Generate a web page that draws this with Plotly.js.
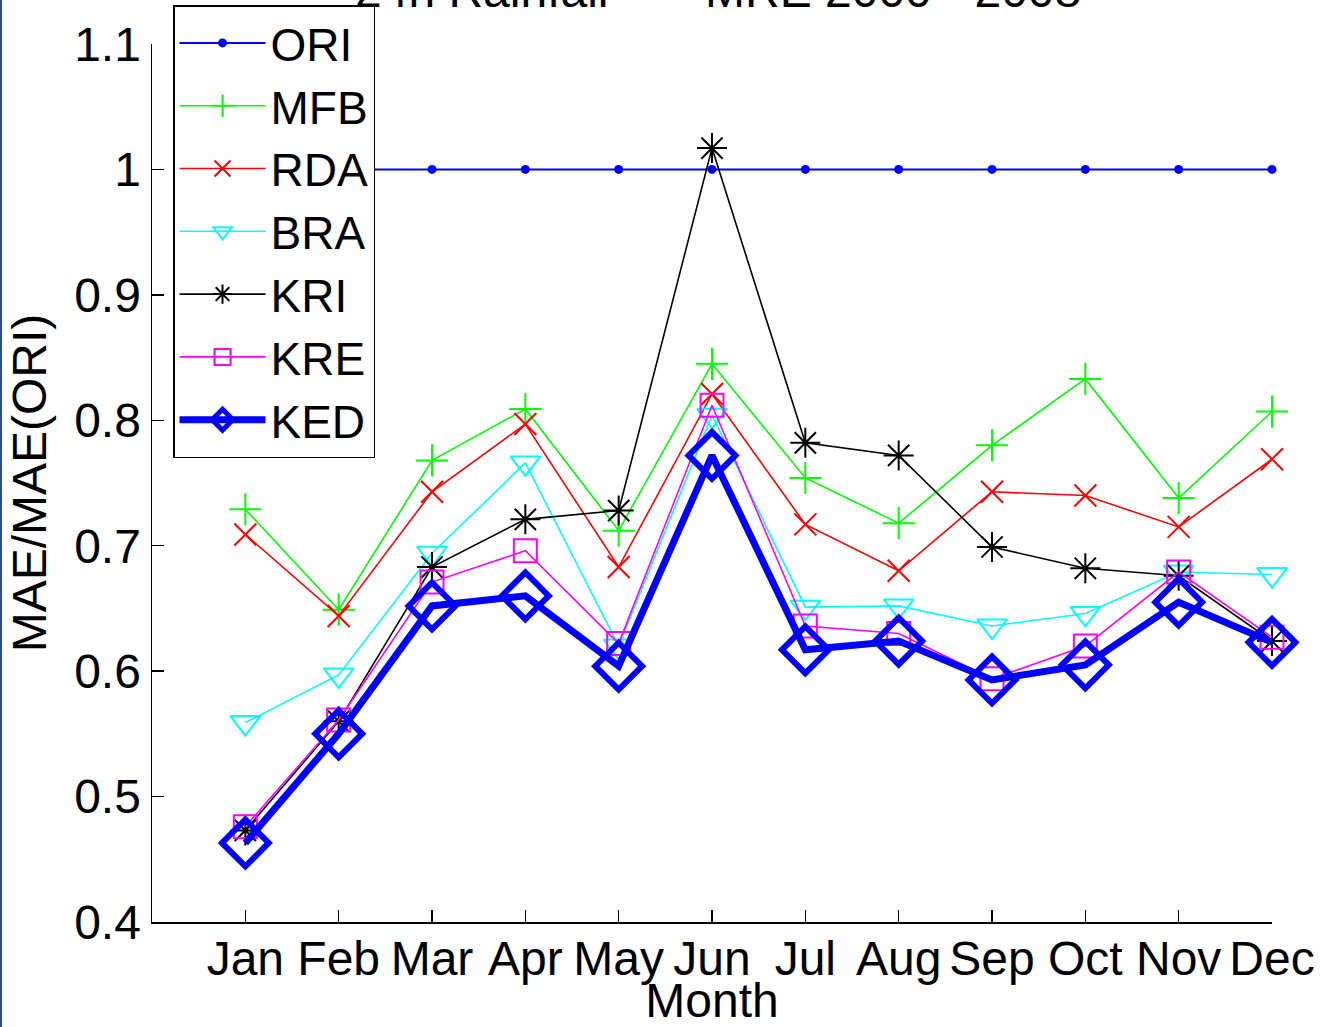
<!DOCTYPE html>
<html>
<head>
<meta charset="utf-8">
<script src="https://cdn.plot.ly/plotly-3.0.1.min.js"></script>
<style>
  html, body { margin: 0; padding: 0; background: #ffffff; }
  #wrap { position: relative; width: 1320px; height: 1027px; overflow: hidden; }
  #chart { width: 1320px; height: 1027px; }
  #edge { position: absolute; left: 0; top: 0; width: 2px; height: 1027px; background: #2b4f94; }
</style>
</head>
<body>
<div id="wrap"><div id="chart"></div><div id="edge"></div></div>
<script>
// ---- data ----
var months = ['Jan', 'Feb', 'Mar', 'Apr', 'May', 'Jun', 'Jul', 'Aug', 'Sep', 'Oct', 'Nov', 'Dec'];
var ORI = [1, 1, 1, 1, 1, 1, 1, 1, 1, 1, 1, 1];
var MFB = [0.729, 0.649, 0.768, 0.809, 0.712, 0.845, 0.754, 0.718, 0.780, 0.833, 0.738, 0.807];
var RDA = [0.709, 0.644, 0.743, 0.797, 0.683, 0.821, 0.717, 0.680, 0.743, 0.740, 0.715, 0.769];
var BRA = [0.559, 0.597, 0.694, 0.766, 0.620, 0.804, 0.651, 0.652, 0.636, 0.646, 0.679, 0.677];
var KRI = [0.473, 0.560, 0.683, 0.721, 0.728, 1.017, 0.782, 0.772, 0.699, 0.682, 0.676, 0.624];
var KRE = [0.476, 0.561, 0.671, 0.696, 0.622, 0.812, 0.636, 0.630, 0.594, 0.620, 0.679, 0.627];
var KED = [0.463, 0.550, 0.652, 0.660, 0.604, 0.772, 0.617, 0.624, 0.593, 0.605, 0.655, 0.623];
var yTicks = [0.4, 0.5, 0.6, 0.7, 0.8, 0.9, 1, 1.1];
var titleLeft = '24h Rainfall';
var titleRight = 'MRE 2000 - 2008';

var FONT = '"Liberation Sans", Arial, Helvetica, sans-serif';

function series(name, y, color, symbol, size, lw, mlw) {
  return {
    type: 'scatter', mode: 'lines+markers', name: name,
    x: months, y: y, cliponaxis: false,
    line: { color: color, width: lw },
    marker: { symbol: symbol, size: size, color: color, line: { color: color, width: mlw } }
  };
}

var traces = [
  series('ORI', ORI, '#0000ff', 'circle', 9, 2, 0),
  series('MFB', MFB, '#00ff00', 'cross-thin-open', 23, 1.6, 2),
  series('RDA', RDA, '#ff0000', 'x-thin-open', 22, 1.6, 2),
  series('BRA', BRA, '#00ffff', 'triangle-down-open', 26, 1.6, 2),
  series('KRI', KRI, '#000000', 'asterisk-open', 25, 1.6, 2),
  series('KRE', KRE, '#ff00ff', 'square-open', 23, 1.6, 2),
  series('KED', KED, '#0000ff', 'diamond-open', 36, 7, 6)
];

var L = 152, R = 48, T = 44, B = 105;
var W = 1320 - L - R, H = 1027 - T - B;
function px2x(p) { return (p - L) / W; }
function py2y(p) { return (1027 - B - p) / H; }

var layout = {
  width: 1320, height: 1027,
  margin: { l: L, r: R, t: T, b: B, pad: 0, autoexpand: false },
  paper_bgcolor: '#ffffff', plot_bgcolor: '#ffffff',
  font: { family: FONT, size: 48, color: '#000000' },
  showlegend: true,
  legend: {
    x: px2x(173), y: py2y(5), xanchor: 'left', yanchor: 'top',
    bgcolor: '#ffffff', bordercolor: '#000000', borderwidth: 1.5,
    font: { family: FONT, size: 46, color: '#000000' },
    itemwidth: 86, tracegroupgap: 0
  },
  xaxis: {
    type: 'category', range: [-1, 11], autorange: false,
    showline: true, linecolor: '#000000', linewidth: 1.5, mirror: false,
    showgrid: false, zeroline: false,
    ticks: 'inside', ticklen: 12, tickwidth: 1.5, tickcolor: '#000000',
    ticklabelstandoff: -6,
    tickfont: { family: FONT, size: 48, color: '#000000' },
    title: { text: 'Month', font: { family: FONT, size: 48, color: '#000000' }, standoff: 10 }
  },
  yaxis: {
    range: [0.4, 1.1], autorange: false,
    tickvals: yTicks,
    showline: true, linecolor: '#000000', linewidth: 1.5, mirror: false,
    showgrid: false, zeroline: false,
    ticks: 'inside', ticklen: 12, tickwidth: 1.5, tickcolor: '#000000',
    tickfont: { family: FONT, size: 48, color: '#000000' },
    title: { text: 'MAE/MAE(ORI)', font: { family: FONT, size: 48, color: '#000000' }, standoff: 12 }
  },
  annotations: [
    { xref: 'paper', yref: 'paper', x: px2x(353), y: py2y(-9), xanchor: 'left', yanchor: 'middle',
      text: titleLeft, showarrow: false, font: { family: FONT, size: 48, color: '#000000' } },
    { xref: 'paper', yref: 'paper', x: px2x(703), y: py2y(-9), xanchor: 'left', yanchor: 'middle',
      text: titleRight, showarrow: false, font: { family: FONT, size: 48, color: '#000000' } }
  ]
};

Plotly.newPlot('chart', traces, layout, { staticPlot: true, displayModeBar: false });
</script>
</body>
</html>
